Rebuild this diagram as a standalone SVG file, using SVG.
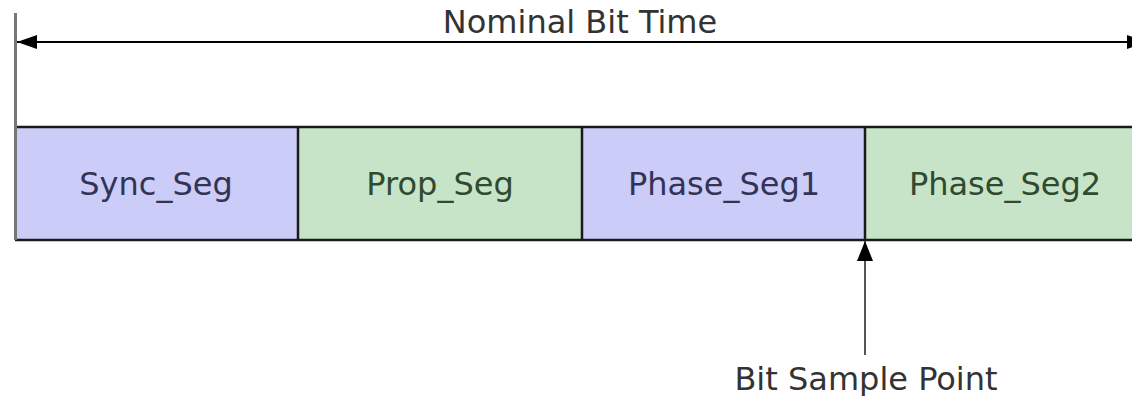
<svg xmlns="http://www.w3.org/2000/svg" width="1132" height="396" viewBox="0 0 1132 396">
<defs>
<style>
.lbl{font-family:"DejaVu Sans",Verdana,sans-serif;font-size:32px;text-anchor:middle}
.seg{stroke:#1a1a1a;stroke-width:2.5}
.purple{fill:#ccccf8}
.green{fill:#c8e4c8}
.tp{fill:#333355}
.tg{fill:#2f4a2f}
</style>
<marker id="ah" viewBox="0 0 20 14" refX="20" refY="7" markerWidth="20" markerHeight="14" markerUnits="userSpaceOnUse" orient="auto-start-reverse">
<path d="M0,0 L20,7 L0,14 Z" fill="#000"/>
</marker>
<marker id="ah2" viewBox="0 0 20 16" refX="20" refY="8" markerWidth="20" markerHeight="16" markerUnits="userSpaceOnUse" orient="auto">
<path d="M0,0 L20,8 L0,16 Z" fill="#000"/>
</marker>
</defs>
<rect width="1132" height="396" fill="#fff"/>
<g id="segments">
<g id="sync_seg"><rect class="purple" x="15" y="127" width="283" height="113"/><text class="lbl tp" x="156" y="195">Sync_Seg</text></g>
<g id="prop_seg"><rect class="green" x="298" y="127" width="284" height="113"/><text class="lbl tg" x="440" y="195">Prop_Seg</text></g>
<g id="phase_seg1"><rect class="purple" x="582" y="127" width="283" height="113"/><text class="lbl tp" x="724" y="195">Phase_Seg1</text></g>
<g id="phase_seg2"><rect class="green" x="865" y="127" width="280" height="113"/><text class="lbl tg" x="1005" y="195">Phase_Seg2</text></g>
<line class="seg" x1="15" y1="127" x2="1132" y2="127"/>
<line class="seg" x1="15" y1="240" x2="1132" y2="240"/>
<line class="seg" x1="298" y1="127" x2="298" y2="240"/>
<line class="seg" x1="582" y1="127" x2="582" y2="240"/>
<line class="seg" x1="865" y1="127" x2="865" y2="240"/>
</g>
<g id="connectors">
<line x1="15.5" y1="13" x2="15.5" y2="240" stroke="#777" stroke-width="3"/>
<line x1="17" y1="42" x2="1147" y2="42" stroke="#000" stroke-width="2" marker-start="url(#ah)" marker-end="url(#ah)"/>
<line x1="865" y1="355" x2="865" y2="241" stroke="#555" stroke-width="2" marker-end="url(#ah2)"/>
</g>
<g id="nominal_bit_time"><text class="lbl" x="580" y="33" fill="#333">Nominal Bit Time</text></g>
<g id="bit_sample_point"><text class="lbl" x="866" y="390" fill="#333">Bit Sample Point</text></g>
</svg>
